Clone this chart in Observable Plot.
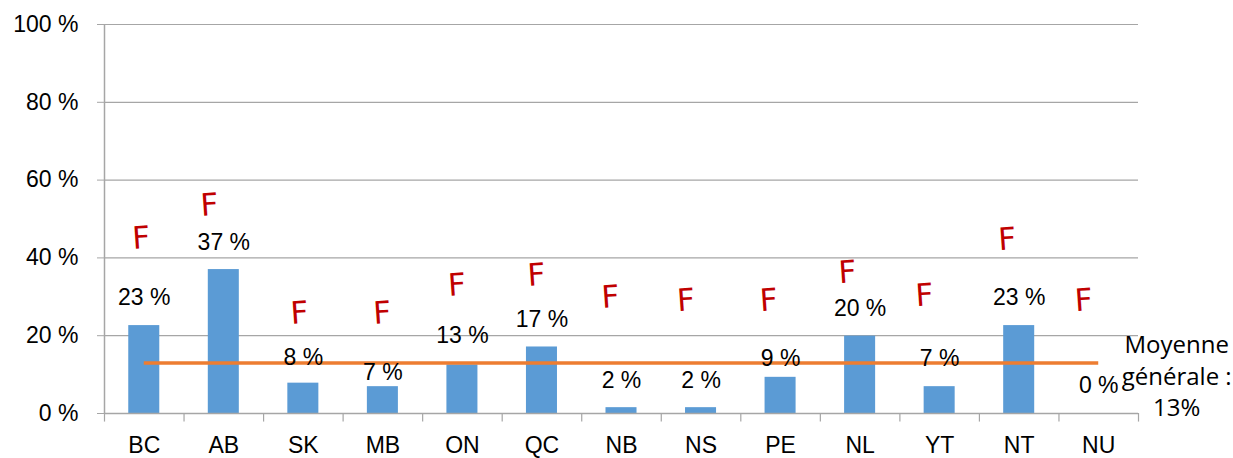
<!DOCTYPE html>
<html>
<head>
<meta charset="utf-8">
<script src="https://cdn.jsdelivr.net/npm/d3@7"></script>
<script src="https://cdn.jsdelivr.net/npm/@observablehq/plot@0.6"></script>
<style>
  html, body { margin: 0; padding: 0; background: #fff; }
  #chart svg { display: block; }
</style>
</head>
<body>
<div id="chart"></div>
<script>
// Data
const provinces = ["BC","AB","SK","MB","ON","QC","NB","NS","PE","NL","YT","NT","NU"];
const values    = [22.6, 37, 7.8, 6.9, 12.5, 17.1, 1.5, 1.5, 9.3, 19.9, 6.9, 22.6, 0];
const valueLabels = ["23 %","37 %","8 %","7 %","13 %","17 %","2 %","2 %","9 %","20 %","7 %","23 %","0 %"];
// heights (in % units) where the labels were placed in the reference
const labelLevels = [29.8, 44.0, 14.4, 10.5, 20.1, 24.2, 8.5, 8.5, 14.1, 27.0, 14.1, 29.8, 7.2];
const flagLevels  = [45.0, 53.5, 25.7, 25.7, 32.9, 35.5, 29.8, 29.0, 29.0, 36.2, 30.3, 44.7, 29.0];
const flagShift   = [-0.04, -0.18, -0.05, -0.01, -0.07, -0.07, -0.14, -0.19, -0.15, -0.16, -0.19, -0.15, -0.19];
const meanValue = 13;
const meanText = "Moyenne\ngénérale :\n13%";
const yTicks = [0, 20, 40, 60, 80, 100];

const rows = provinces.map((p, i) => ({
  p, i, v: values[i], lab: valueLabels[i], ly: labelLevels[i], fy: flagLevels[i], fx: i + 0.5 + flagShift[i]
}));

const grid = "#A6A6A6";
const font = "Liberation Sans, Arial, sans-serif";

const chart = Plot.plot({
  width: 1233,
  height: 458,
  marginLeft: 104,
  marginRight: 95,
  marginTop: 24,
  marginBottom: 45,
  style: { fontFamily: font, fontSize: "23px", color: "#000", background: "#fff", overflow: "visible" },
  x: { domain: [0, provinces.length], axis: null },
  y: { domain: [0, 100], axis: null },
  marks: [
    Plot.gridY(yTicks, { stroke: grid, strokeOpacity: 1, strokeWidth: 1.2 }),
    Plot.axisY({ ticks: yTicks, tickFormat: d => d + " %", tickSize: 7, tickPadding: 19, stroke: grid, strokeOpacity: 1, fontSize: 23, fill: "#000", fontFamily: font, label: null }),
    Plot.ruleX(d3.range(provinces.length + 1), { y1: 0, y2: -2.2, stroke: grid, strokeWidth: 1.2, clip: false }),
    Plot.ruleX([0], { stroke: grid, strokeWidth: 1.5 }),
    Plot.rectY(rows, { x1: d => d.i + 0.305, x2: d => d.i + 0.695, y: "v", fill: "#5B9BD5" }),
    Plot.ruleY([0], { stroke: grid, strokeWidth: 1.5 }),
    Plot.ruleY([meanValue], { x1: 0.5, x2: provinces.length - 0.5, stroke: "#ED7D31", strokeWidth: 3.5 }),
    Plot.axisX({ ticks: d3.range(provinces.length).map(i => i + 0.5), tickSize: 0, tickPadding: 23, tickFormat: t => provinces[Math.floor(t)], fontSize: 23, fill: "#000", fontFamily: font, label: null }),
    Plot.text(rows, { x: d => d.i + 0.5, y: "ly", text: "lab", fontSize: 23, fill: "#000", fontFamily: font }),
    Plot.text(rows, { x: "fx", y: "fy", text: () => "F", fontSize: 31, fill: "#C00000", fontFamily: "DejaVu Sans, sans-serif", rotate: -4 }),
    Plot.text([meanText], { x: provinces.length + 0.48, y: 10.0, text: d => d, fontSize: 24, lineHeight: 1.32, fill: "#000", fontFamily: "Open Sans, Lato, sans-serif" })
  ]
});
document.getElementById("chart").appendChild(chart);
</script>
</body>
</html>
